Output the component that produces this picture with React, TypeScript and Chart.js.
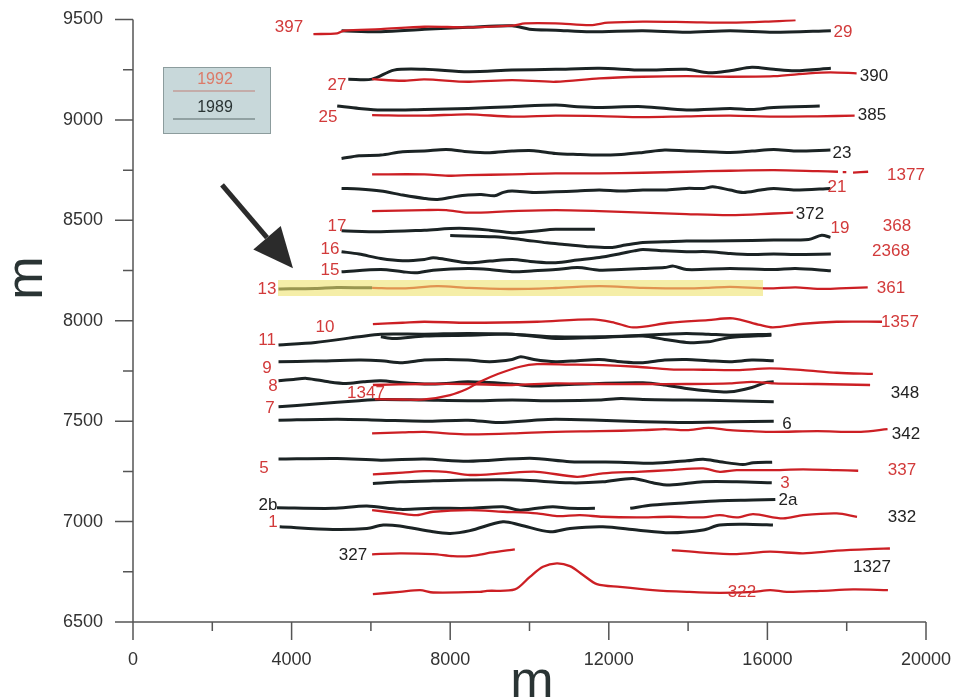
import React, { useEffect, useRef } from 'react';
import { Chart, registerables } from 'chart.js';

Chart.register(...registerables);

type P = [number, number];

// ---------- axis values ----------
const xMajorTicks = [0, 4000, 8000, 12000, 16000, 20000];
const xMinorTicks = [2000, 6000, 10000, 14000, 18000];
const yMajorTicks = [6500, 7000, 7500, 8000, 8500, 9000, 9500];
const yMinorTicks = [6750, 7250, 7750, 8250, 8750, 9250];

// ---------- 1989 survey lines (black) ----------
const b29: P[] = [[5260,9444],[6250,9439],[7350,9451],[8450,9461],[9560,9469],[10000,9452],[10660,9447],[11540,9439],[12860,9444],[13960,9436],[15060,9444],[16160,9436],[17600,9444]];
const b27: P[] = [[5430,9203],[6030,9203],[6580,9248],[7350,9252],[8450,9240],[9560,9248],[10660,9252],[11760,9257],[12860,9248],[13960,9252],[14510,9235],[15060,9245],[15610,9262],[16160,9252],[16710,9245],[17600,9257]];
const b25: P[] = [[5150,9069],[5700,9057],[6250,9049],[7350,9052],[8450,9057],[9560,9066],[10660,9074],[11210,9066],[11760,9062],[12860,9066],[13960,9049],[15060,9057],[15610,9052],[16160,9062],[17320,9069]];
const b23: P[] = [[5260,8808],[5700,8822],[6250,8825],[6800,8842],[7350,8845],[7900,8853],[8450,8842],[9000,8837],[9560,8845],[10110,8847],[10660,8833],[11210,8828],[11760,8825],[12310,8828],[12860,8838],[13410,8850],[13960,8845],[14510,8842],[15060,8838],[15610,8845],[16160,8853],[16710,8845],[17590,8850]];
const b21: P[] = [[5260,8659],[5700,8656],[6250,8646],[6800,8626],[7350,8609],[7680,8604],[8120,8618],[8450,8626],[8780,8629],[9120,8622],[9340,8639],[9560,8646],[10110,8639],[10660,8642],[11210,8646],[11760,8651],[12310,8646],[12860,8651],[13410,8651],[13960,8659],[14400,8659],[14620,8667],[15060,8651],[15390,8639],[15830,8651],[16160,8659],[16710,8651],[17590,8659]];
const b17: P[] = [[5260,8448],[6250,8443],[7350,8451],[8230,8460],[9000,8451],[9560,8438],[10110,8446],[10660,8455],[11650,8456]];
const b19: P[] = [[8000,8424],[9120,8418],[9780,8405],[10440,8388],[10880,8380],[11540,8368],[12090,8365],[12420,8377],[12860,8390],[13410,8393],[13960,8397],[15060,8398],[16160,8402],[17040,8405],[17370,8426],[17590,8415]];
const b16: P[] = [[5260,8344],[5700,8332],[6250,8310],[6800,8299],[7350,8305],[7570,8314],[7900,8305],[8450,8289],[9000,8297],[9560,8305],[10110,8294],[10660,8289],[11210,8302],[11760,8315],[12310,8335],[12640,8348],[12860,8355],[13410,8348],[13960,8344],[14510,8344],[15060,8335],[15610,8330],[16160,8332],[16710,8330],[17600,8332]];
const b15: P[] = [[5260,8244],[6250,8255],[6800,8244],[7130,8239],[7570,8252],[8450,8260],[9000,8255],[9560,8244],[10110,8249],[10660,8255],[11210,8265],[11760,8252],[12310,8255],[12860,8260],[13410,8265],[13630,8272],[13960,8255],[15060,8260],[16160,8255],[16710,8260],[17600,8249]];
const b13: P[] = [[3670,8158],[4600,8161],[5150,8166],[6030,8164]];
const b11: P[] = [[3670,7879],[4600,7892],[5700,7920],[6250,7933],[7350,7933],[8450,7937],[9560,7933],[10660,7920],[11760,7920],[12860,7928],[13410,7933],[13960,7937],[14510,7933],[15060,7928],[16100,7933]];
const b10: P[] = [[6250,7920],[6580,7912],[7350,7924],[8450,7928],[9560,7933],[10660,7912],[11760,7917],[12860,7924],[13410,7907],[13960,7892],[14510,7895],[15060,7917],[16100,7928]];
const b9: P[] = [[3670,7796],[4600,7799],[5700,7804],[6250,7801],[6800,7791],[7350,7804],[7900,7807],[8450,7804],[9000,7796],[9560,7807],[9780,7821],[10110,7807],[10660,7796],[11210,7801],[11760,7807],[12310,7796],[12860,7791],[13410,7804],[13960,7807],[14510,7801],[15060,7796],[15610,7804],[16160,7801]];
const b8: P[] = [[3670,7701],[4050,7708],[4380,7713],[4930,7696],[5370,7688],[5810,7696],[6250,7701],[6800,7691],[7350,7685],[7900,7688],[8450,7696],[9560,7685],[10110,7675],[10660,7680],[11760,7688],[12860,7691],[13410,7680],[13960,7663],[14510,7651],[15060,7646],[15610,7668],[15940,7691],[16160,7696]];
const b7: P[] = [[3670,7572],[4600,7585],[5700,7602],[6250,7608],[7350,7605],[8450,7602],[9560,7605],[10660,7602],[11760,7605],[12310,7613],[12860,7608],[13960,7605],[15060,7602],[16160,7597]];
const b6: P[] = [[3670,7505],[5150,7510],[6250,7505],[7350,7500],[8450,7505],[9220,7493],[10110,7505],[10660,7510],[11760,7505],[12860,7497],[13960,7493],[15060,7497],[16160,7500]];
const b5: P[] = [[3670,7311],[5150,7314],[6250,7306],[7350,7311],[8450,7300],[10010,7315],[11020,7298],[12280,7296],[13110,7290],[13970,7303],[14380,7310],[14800,7298],[15380,7284],[15640,7293],[16120,7296]];
const b3: P[] = [[6050,7190],[6730,7198],[7570,7203],[8500,7207],[9760,7207],[11020,7193],[11850,7198],[12610,7215],[13110,7193],[13540,7182],[14380,7198],[15230,7198],[16110,7193]];
const b2b: P[] = [[3630,7069],[5040,7066],[5900,7077],[6730,7061],[7570,7066],[8500,7066],[9330,7074],[9760,7057],[10190,7066],[10590,7074],[11020,7066],[11650,7066]];
const b2a: P[] = [[12540,7066],[13110,7082],[13970,7094],[14800,7104],[15640,7107],[16200,7110]];
const b1: P[] = [[3700,6974],[5040,6961],[5900,6966],[6310,6983],[6730,6978],[7570,6949],[8000,6941],[8500,6955],[9330,6999],[9760,6983],[10520,6949],[11020,6966],[11850,6974],[12710,6958],[13540,6944],[14380,6958],[14800,6983],[15640,6986],[16140,6983]];

// ---------- 1992 survey lines (red) ----------
const r397: P[] = [[4550,9427],[5150,9431],[5320,9444],[6250,9452],[7350,9464],[8450,9461],[9560,9469],[9890,9481],[10660,9481],[11540,9472],[11980,9484],[12860,9489],[13960,9487],[15060,9484],[15940,9489],[16710,9497]];
const r390: P[] = [[6030,9203],[6800,9195],[7350,9202],[8450,9190],[9560,9198],[10660,9190],[11760,9207],[12860,9215],[13960,9218],[15060,9215],[16160,9218],[17040,9232],[17590,9237],[18250,9232]];
const r385: P[] = [[6030,9024],[7350,9021],[8450,9028],[9560,9016],[10660,9021],[11760,9019],[12860,9014],[13960,9018],[15060,9021],[16160,9016],[17260,9018],[18200,9021]];
const r1377: P[] = [[6030,8729],[7350,8729],[8010,8722],[8450,8725],[9560,8729],[10660,8734],[11760,8734],[12860,8737],[13960,8742],[15060,8747],[16160,8750],[17260,8745],[17780,8742]];
const r1377dot: P[] = [[17900,8740],[17990,8740]];
const r1377dash: P[] = [[18160,8738],[18540,8742]];
const r372: P[] = [[6030,8546],[7350,8551],[7900,8551],[8450,8538],[9560,8546],[10660,8551],[11760,8546],[12860,8538],[13960,8531],[15060,8526],[16160,8534],[16650,8538]];
const r368: P[] = [[6030,8397],[9000,8399],[12000,8397],[15000,8399],[19100,8400]];
const r361: P[] = [[6030,8164],[6800,8161],[7680,8172],[8450,8164],[9560,8158],[10660,8163],[11760,8172],[12860,8164],[13960,8161],[14510,8164],[15060,8169],[16000,8161],[16710,8166],[17260,8159],[17810,8161],[18530,8166]];
const r1357: P[] = [[6050,7983],[6800,7990],[7350,7995],[8450,7990],[10190,7995],[11600,8007],[12150,7990],[12610,7967],[13540,7990],[14500,8003],[15130,8012],[15810,7979],[16140,7967],[16900,7985],[17750,7995],[18890,7995]];
const r1347: P[] = [[6100,7610],[6800,7608],[7350,7608],[8000,7630],[8420,7660],[8750,7696],[9200,7735],[9760,7771],[10190,7784],[11000,7782],[11850,7779],[12710,7771],[13540,7758],[14400,7756],[15230,7754],[16060,7763],[16900,7754],[17750,7741],[18660,7735]];
const r348: P[] = [[6050,7680],[7350,7685],[8450,7685],[9560,7680],[10660,7688],[11760,7685],[12860,7685],[13960,7685],[15060,7688],[15610,7696],[16160,7688],[17260,7685],[18590,7680]];
const r342: P[] = [[6030,7439],[6800,7444],[7350,7447],[7900,7439],[8450,7434],[9560,7439],[10660,7447],[11760,7450],[12860,7455],[13410,7460],[13960,7455],[14510,7467],[15060,7455],[15610,7450],[16160,7447],[17260,7450],[18360,7447],[19030,7460]];
const r337: P[] = [[6050,7235],[6800,7244],[7350,7251],[7900,7248],[8500,7232],[9330,7240],[10190,7248],[11200,7223],[11850,7240],[12710,7248],[13540,7256],[14380,7265],[14800,7248],[15230,7256],[16060,7256],[16900,7260],[17750,7256],[18290,7253]];
const r332: P[] = [[6030,7057],[6730,7041],[7160,7032],[7570,7049],[8500,7057],[9330,7049],[10190,7041],[10690,7027],[11270,7032],[11850,7024],[12710,7021],[13540,7024],[14380,7021],[14800,7032],[15230,7021],[15640,7037],[16390,7016],[16900,7032],[17750,7041],[18260,7024]];
const r327: P[] = [[6030,6837],[6730,6842],[7570,6838],[8070,6828],[8500,6828],[8750,6835],[9000,6845],[9630,6862]];
const r1327: P[] = [[13590,6858],[14380,6845],[15230,6838],[16060,6850],[16900,6842],[17750,6855],[18580,6863],[19090,6866]];
const r322: P[] = [[6050,6639],[6730,6650],[7240,6659],[7570,6647],[8750,6650],[8930,6655],[9630,6662],[10010,6725],[10340,6775],[10690,6792],[11020,6778],[11350,6734],[11700,6689],[12280,6675],[13110,6659],[13970,6650],[14800,6645],[15640,6650],[16070,6659],[16490,6650],[17330,6655],[18160,6662],[19040,6659]];

// highlighted profile (line 13)
const highlight13: P[] = [[3657,8163],[15889,8163]];

// arrow pointing at line 13: tail, tip
const arrowTail: P = [2245, 8676];
const arrowTip: P = [4035, 8262];

// line labels: text, x, y, red?
const lineLabels: [string, number, number, boolean][] = [
  ['397', 3934, 9463, true], ['29', 17907, 9438, true], ['27', 5145, 9174, true], ['390', 18689, 9219, false],
  ['25', 4918, 9014, true], ['385', 18638, 9024, false], ['23', 17881, 8835, false], ['1377', 19496, 8725, true],
  ['21', 17755, 8666, true], ['372', 17074, 8531, false], ['19', 17831, 8462, true], ['368', 19269, 8472, true],
  ['2368', 19117, 8347, true], ['17', 5145, 8472, true], ['16', 4968, 8357, true], ['15', 4968, 8252, true],
  ['13', 3380, 8158, true], ['361', 19117, 8163, true], ['10', 4842, 7968, true], ['1357', 19344, 7993, true],
  ['11', 3380, 7904, true], ['9', 3380, 7765, true], ['8', 3531, 7675, true], ['1347', 5877, 7640, true],
  ['348', 19470, 7640, false], ['7', 3455, 7565, true], ['6', 16494, 7485, false], ['342', 19496, 7435, false],
  ['5', 3304, 7266, true], ['337', 19395, 7257, true], ['3', 16444, 7192, true], ['2b', 3405, 7082, false],
  ['2a', 16520, 7107, false], ['332', 19395, 7022, false], ['1', 3531, 6998, true], ['327', 5549, 6833, false],
  ['1327', 18638, 6773, false], ['322', 15360, 6649, true],
];

const legendYears = ['1992', '1989'];

const BLACK = '#1b2324';
const RED = '#cc1f24';
const RED_TEXT = '#d23a3a';
const FONT = '"Liberation Sans", Arial, sans-serif';

const series1989 = [b29, b27, b25, b23, b21, b17, b19, b16, b15, b13, b11, b10, b9, b8, b7, b6, b5, b3, b2b, b2a, b1];
const series1992 = [r397, r390, r385, r1377, r1377dot, r1377dash, r372, r361, r1357, r1347, r348, r342, r337, r332, r327, r1327, r322];

const toXY = (pts: P[]) => pts.map(([x, y]) => ({ x, y }));

const decorPlugin = {
  id: 'decor',
  afterDraw(chart: any) {
    const ctx = chart.ctx;
    const xs = chart.scales.x;
    const ys = chart.scales.y;
    const area = chart.chartArea;
    ctx.save();

    // axes
    ctx.strokeStyle = '#555';
    ctx.lineWidth = 1.5;
    const x0 = xs.getPixelForValue(0);
    const yBot = ys.getPixelForValue(6500);
    ctx.beginPath();
    ctx.moveTo(x0, ys.getPixelForValue(9500));
    ctx.lineTo(x0, yBot + 18);
    ctx.moveTo(x0 - 18, yBot);
    ctx.lineTo(xs.getPixelForValue(20000), yBot);
    yMajorTicks.forEach((v) => { const p = ys.getPixelForValue(v); ctx.moveTo(x0 - 18, p); ctx.lineTo(x0, p); });
    yMinorTicks.forEach((v) => { const p = ys.getPixelForValue(v); ctx.moveTo(x0 - 10, p); ctx.lineTo(x0, p); });
    xMajorTicks.forEach((v) => { const p = xs.getPixelForValue(v); ctx.moveTo(p, yBot); ctx.lineTo(p, yBot + 18); });
    xMinorTicks.forEach((v) => { const p = xs.getPixelForValue(v); ctx.moveTo(p, yBot); ctx.lineTo(p, yBot + 9); });
    ctx.stroke();

    // axis titles
    ctx.fillStyle = '#2a3434';
    ctx.font = `52px ${FONT}`;
    ctx.textAlign = 'center';
    ctx.textBaseline = 'alphabetic';
    ctx.fillText('m', 532, 697);
    ctx.save();
    ctx.translate(42, 278);
    ctx.rotate(-Math.PI / 2);
    ctx.fillText('m', 0, 0);
    ctx.restore();

    // line labels
    ctx.font = `17px ${FONT}`;
    ctx.textBaseline = 'middle';
    ctx.textAlign = 'center';
    lineLabels.forEach(([t, x, y, red]) => {
      ctx.fillStyle = red ? RED_TEXT : '#222';
      ctx.fillText(t, xs.getPixelForValue(x), ys.getPixelForValue(y));
    });

    // legend box
    const lx = area.left + 30;
    const ly = area.top + 47.5;
    ctx.fillStyle = '#c8d8da';
    ctx.strokeStyle = '#8c9c9d';
    ctx.lineWidth = 1;
    ctx.fillRect(lx, ly, 108, 67);
    ctx.strokeRect(lx + 0.5, ly + 0.5, 107, 66);
    ctx.font = `16px ${FONT}`;
    ctx.fillStyle = '#dc7a68';
    ctx.fillText(legendYears[0], lx + 52, ly + 13);
    ctx.fillStyle = '#2a3434';
    ctx.fillText(legendYears[1], lx + 52, ly + 41);
    ctx.lineWidth = 1.2;
    ctx.strokeStyle = '#c08078';
    ctx.beginPath(); ctx.moveTo(lx + 10, ly + 24); ctx.lineTo(lx + 92, ly + 24); ctx.stroke();
    ctx.strokeStyle = '#5a6a6a';
    ctx.beginPath(); ctx.moveTo(lx + 10, ly + 52); ctx.lineTo(lx + 92, ly + 52); ctx.stroke();

    // arrow
    const tx = xs.getPixelForValue(arrowTail[0]);
    const ty = ys.getPixelForValue(arrowTail[1]);
    const hx = xs.getPixelForValue(arrowTip[0]);
    const hy = ys.getPixelForValue(arrowTip[1]);
    const ang = Math.atan2(hy - ty, hx - tx);
    const headLen = 40;
    const headHalf = 18;
    const bx = hx - headLen * Math.cos(ang);
    const by = hy - headLen * Math.sin(ang);
    ctx.strokeStyle = '#2b2b2b';
    ctx.fillStyle = '#2b2b2b';
    ctx.lineWidth = 5;
    ctx.beginPath(); ctx.moveTo(tx, ty); ctx.lineTo(bx, by); ctx.stroke();
    ctx.beginPath();
    ctx.moveTo(hx, hy);
    ctx.lineTo(bx + headHalf * Math.sin(ang), by - headHalf * Math.cos(ang));
    ctx.lineTo(bx - headHalf * Math.sin(ang), by + headHalf * Math.cos(ang));
    ctx.closePath();
    ctx.fill();

    ctx.restore();
  },
};

export default function App() {
  const ref = useRef<HTMLCanvasElement | null>(null);
  useEffect(() => {
    if (!ref.current) return;
    const datasets: any[] = [];
    datasets.push({
      data: toXY(highlight13), borderColor: 'rgba(238,226,110,0.6)', borderWidth: 16,
      borderCapStyle: 'butt', pointRadius: 0, showLine: true, order: 0, tension: 0,
    });
    series1992.forEach((s) => {
      datasets.push({
        data: toXY(s), borderColor: RED, borderWidth: s === r368 ? 5 : 2.3, pointRadius: 0,
        showLine: true, order: 1, tension: 0.3,
      });
    });
    series1989.forEach((s) => {
      datasets.push({
        data: toXY(s), borderColor: BLACK, borderWidth: 3, pointRadius: 0,
        showLine: true, order: 2, tension: 0.3,
      });
    });
    const chart = new Chart(ref.current, {
      type: 'scatter',
      data: { datasets },
      options: {
        animation: false,
        responsive: false,
        events: [],
        layout: { padding: { left: 0, top: 19.5, right: 29, bottom: 0 } },
        plugins: { legend: { display: false }, tooltip: { enabled: false } },
        scales: {
          x: {
            type: 'linear', min: 0, max: 20000,
            grid: { display: false, drawTicks: true, tickLength: 27 },
            border: { display: false },
            ticks: { stepSize: 4000, autoSkip: false, maxRotation: 0, padding: 0, color: '#333', font: { size: 18, family: FONT }, callback: (v: any) => String(v) },
            afterFit: (s: any) => { s.height = 77; },
          },
          y: {
            type: 'linear', min: 6500, max: 9500,
            grid: { display: false, drawTicks: true, tickLength: 30 },
            border: { display: false },
            ticks: { stepSize: 500, autoSkip: false, padding: 0, color: '#333', font: { size: 18, family: FONT }, callback: (v: any) => String(v) },
            afterFit: (s: any) => { s.width = 133; },
          },
        },
      },
      plugins: [decorPlugin],
    } as any);
    return () => chart.destroy();
  }, []);
  return (
    <div style={{ position: 'absolute', left: 0, top: 0, width: 955, height: 699, background: '#fff' }}>
      <canvas ref={ref} width={955} height={699} />
    </div>
  );
}
